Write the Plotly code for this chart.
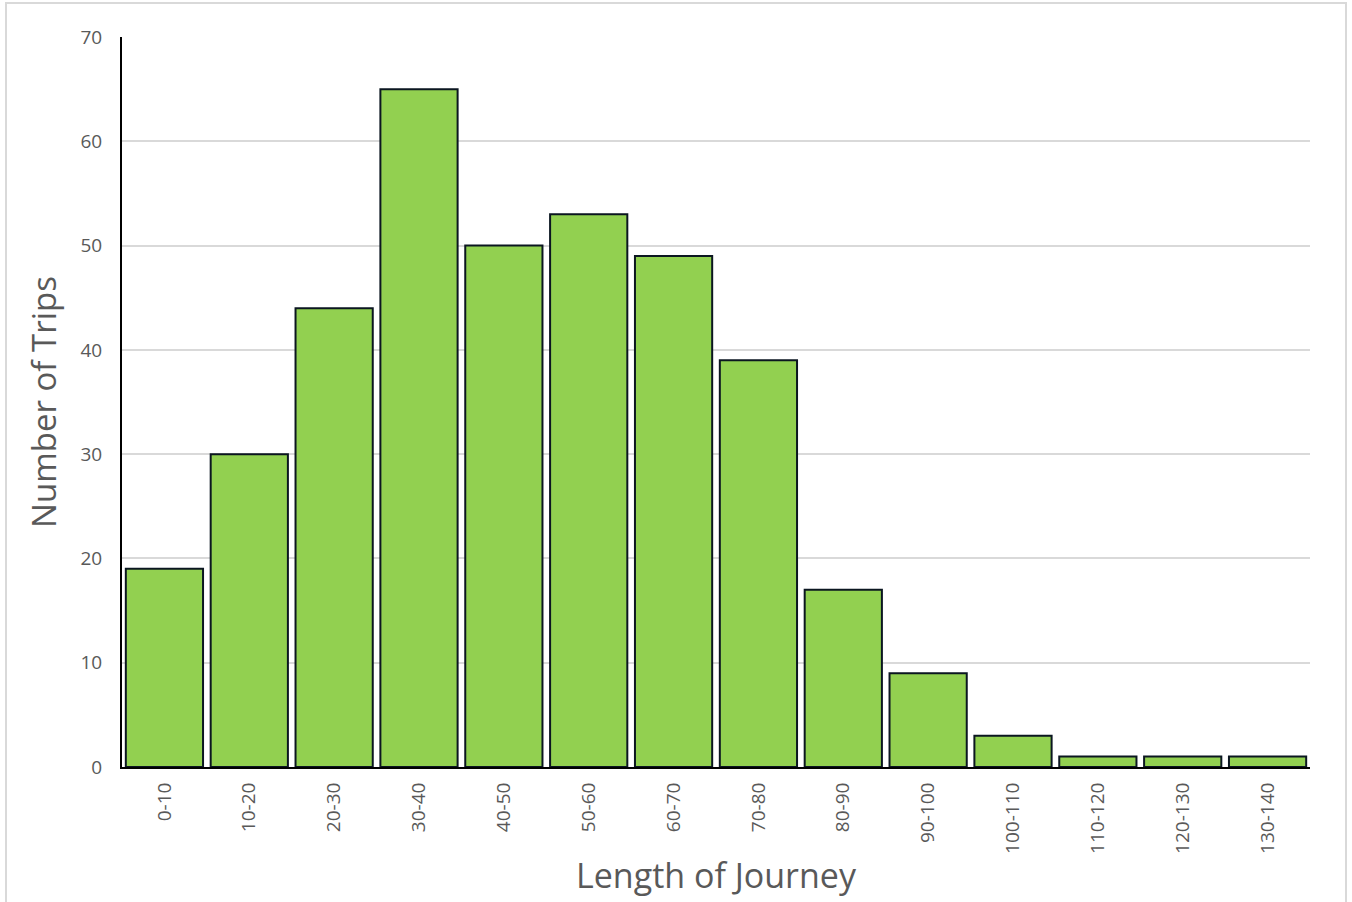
import plotly.graph_objects as go

# Journey-length bins and trip counts
bins = ["0-10", "10-20", "20-30", "30-40", "40-50", "50-60", "60-70",
        "70-80", "80-90", "90-100", "100-110", "110-120", "120-130", "130-140"]
trips = [19, 30, 44, 65, 50, 53, 49, 39, 17, 9, 3, 1, 1, 1]

L, R, T, B = 122, 1310, 37, 767
W, H = 1352, 902
pw, ph = R - L, B - T

fig = go.Figure(go.Bar(
    x=bins, y=trips,
    marker=dict(color="#92D050", line=dict(color="#0b1620", width=2)),
))

font = "Open Sans, Segoe UI, sans-serif"

fig.update_layout(
    width=W, height=H,
    margin=dict(l=L, r=W - R, t=T, b=H - B, autoexpand=False),
    paper_bgcolor="white", plot_bgcolor="white",
    bargap=0.09,
    showlegend=False,
    font=dict(family=font, color="#595959"),
    xaxis=dict(
        type="category", automargin=False,
        showline=True, linecolor="black", linewidth=2,
        showgrid=False, zeroline=False,
        tickangle=-90, tickfont=dict(size=19, color="#595959"),
        ticks="", ticklabelstandoff=6,
        title=dict(text="Length of Journey", font=dict(size=34, color="#595959"), standoff=11),
    ),
    yaxis=dict(
        range=[0, 70], dtick=10, automargin=False,
        showline=True, linecolor="black", linewidth=2,
        showgrid=True, gridcolor="#d9d9d9", gridwidth=2,
        zeroline=False,
        tickfont=dict(size=19, color="#595959"),
        ticks="", ticklabelstandoff=14,
        title=dict(text="Number of Trips", font=dict(size=33, color="#595959"), standoff=14),
    ),
    shapes=[dict(
        type="rect", xref="paper", yref="paper",
        x0=(6 - L) / pw, x1=(1346 - L) / pw,
        y0=(B - 906) / ph, y1=(B - 3) / ph,
        line=dict(color="#d9d9d9", width=2), fillcolor="rgba(0,0,0,0)",
        layer="below",
    )],
)

fig.write_html("out.html")
